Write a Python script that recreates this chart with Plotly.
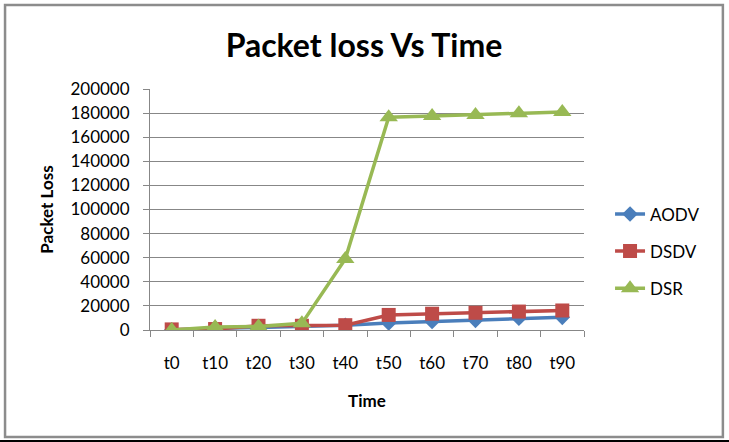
import plotly.graph_objects as go

categories = ["t0", "t10", "t20", "t30", "t40", "t50", "t60", "t70", "t80", "t90"]
aodv = [0, 1500, 2000, 3000, 4000, 5800, 7000, 8000, 9800, 10500]
dsdv = [500, 800, 3500, 3500, 4000, 12500, 13500, 14300, 15300, 16200]
dsr = [0, 2500, 3000, 5500, 59000, 176500, 177500, 178500, 179800, 181000]
y_ticks = [0, 20000, 40000, 60000, 80000, 100000, 120000, 140000, 160000, 180000, 200000]

series = [
    ("AODV", aodv, "#4a7ebb", "diamond", 12),
    ("DSDV", dsdv, "#be4b48", "square", 14),
    ("DSR", dsr, "#98b954", "triangle-up", 16),
]

FONT = "Lato"
fig = go.Figure()
for i, (name, vals, color, sym, size) in enumerate(series):
    fig.add_trace(go.Scatter(
        x=categories, y=vals, name=name, mode="lines+markers",
        line=dict(color=color, width=3.5),
        marker=dict(symbol=sym, size=size, color=color),
        legendgroup=name,
    ))

fig.update_layout(
    width=729, height=442,
    margin=dict(l=150, r=145, t=89, b=112),
    paper_bgcolor="white", plot_bgcolor="white",
    font=dict(family=FONT, color="#000000", size=17),
    title=dict(text="<b>Packet loss Vs Time</b>", x=0.4993, xref="container",
               y=0.896, yref="container", yanchor="middle", xanchor="center",
               font=dict(family=FONT, size=32, color="#000000")),
    showlegend=True,
    legend=dict(x=1.06, y=0.326, xanchor="left", yanchor="middle",
                font=dict(family=FONT, size=17), tracegroupgap=12,
                bgcolor="rgba(0,0,0,0)"),
    xaxis=dict(
        type="category", range=[-0.5, 9.5], showgrid=False,
        showline=True, linecolor="#878787", linewidth=1,
        ticks="outside", tickson="boundaries", ticklen=6, tickcolor="#878787",
        ticklabelstandoff=18, tickfont=dict(size=17),
        title=dict(text="<b>Time</b>", font=dict(size=17), standoff=22),
    ),
    yaxis=dict(
        range=[0, 200000], tickvals=y_ticks, showgrid=True, gridcolor="#878787",
        gridwidth=1, showline=True, linecolor="#878787", linewidth=1,
        ticks="outside", ticklen=6, tickcolor="#878787", tickformat="d",
        ticklabelstandoff=10, tickfont=dict(size=17), zeroline=False,
        title=dict(text="<b>Packet Loss</b>", font=dict(size=17), standoff=12),
    ),
    shapes=[
        dict(type="rect", xref="paper", yref="paper", x0=-0.334, x1=1.320,
             y0=-0.444, y1=1.349, line=dict(color="#8c8c8c", width=2.5), layer="below"),
        dict(type="line", xref="paper", yref="paper", x0=-0.3456, x1=1.3341,
             y0=-0.462, y1=-0.462, line=dict(color="#000000", width=2.5)),
    ],
)

fig.write_html("out.html")
